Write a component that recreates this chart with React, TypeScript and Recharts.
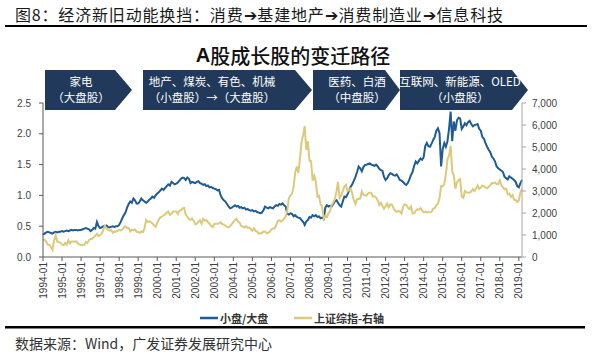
import { Line, LineChart, XAxis, YAxis } from "recharts";

const startYear = 1994;

// 小盘/大盘, monthly from 1994-01
const smallLargeRatio = [
  0.36, 0.38, 0.4, 0.41, 0.4, 0.39, 0.38, 0.4, 0.41, 0.4, 0.41, 0.41,
  0.42, 0.41, 0.42, 0.43, 0.42, 0.43, 0.44, 0.43, 0.44, 0.44, 0.43, 0.44,
  0.44, 0.45, 0.46, 0.47, 0.46, 0.45, 0.42, 0.44, 0.47, 0.46, 0.57, 0.5,
  0.47, 0.48, 0.5, 0.49, 0.51, 0.49, 0.48, 0.49, 0.5, 0.49, 0.5, 0.5,
  0.52, 0.57, 0.63, 0.68, 0.72, 0.8, 0.86, 0.9, 0.88, 0.95, 0.92, 0.87,
  0.87, 0.9, 0.95, 0.92, 0.9, 0.88, 0.9, 0.93, 0.95, 0.98, 0.96, 1.0,
  1.03, 1.05, 1.08, 1.11, 1.09, 1.12, 1.15, 1.18, 1.16, 1.22, 1.2, 1.18,
  1.19, 1.21, 1.24, 1.27, 1.29, 1.28, 1.25, 1.29, 1.27, 1.2, 1.22, 1.21,
  1.2, 1.22, 1.23, 1.2, 1.19, 1.17, 1.18, 1.15, 1.16, 1.13, 1.14, 1.12,
  1.11, 1.1, 1.08, 1.09, 1.0, 0.95, 0.92, 0.9, 0.86, 0.82, 0.79, 0.8,
  0.82, 0.84, 0.82, 0.83, 0.8, 0.81, 0.79, 0.8, 0.77, 0.78, 0.76, 0.75,
  0.76, 0.74, 0.75, 0.73, 0.72, 0.71, 0.72, 0.76, 0.82, 0.8, 0.79, 0.81,
  0.8, 0.79, 0.82, 0.84, 0.83, 0.86, 0.85, 0.87, 0.84, 0.82, 0.7, 0.69,
  0.71, 0.7, 0.66, 0.68, 0.65, 0.64, 0.63, 0.6, 0.57, 0.52, 0.58, 0.6,
  0.65, 0.64, 0.68, 0.66, 0.68, 0.65, 0.66, 0.63, 0.64, 0.62, 0.8, 0.84,
  0.82, 0.83, 0.82, 0.86, 0.9, 0.92, 0.88, 0.84, 0.82, 0.9, 0.98, 0.97,
  1.02, 1.08, 1.14, 1.18, 1.24, 1.3, 1.38, 1.47, 1.44, 1.39, 1.46, 1.49,
  1.5, 1.51, 1.52, 1.5, 1.49, 1.48, 1.5, 1.47, 1.43, 1.41, 1.4, 1.3,
  1.25, 1.28, 1.33, 1.36, 1.35, 1.33, 1.32, 1.34, 1.3, 1.25, 1.24, 1.22,
  1.19, 1.17, 1.2, 1.26, 1.33, 1.38, 1.48, 1.55, 1.52, 1.56, 1.6, 1.58,
  1.62, 1.8, 1.85, 1.8, 1.79, 1.84, 1.9, 1.95, 2.05, 2.09, 2.01, 1.47,
  1.75, 1.85, 1.79, 1.88, 2.08, 2.36, 1.88, 2.2, 2.05, 2.22, 2.26, 2.25,
  2.08, 2.12, 2.17, 2.14, 2.19, 2.21, 2.16, 2.12, 2.14, 2.15, 2.16, 2.08,
  2.05, 1.95, 1.92, 1.85, 1.79, 1.74, 1.7, 1.63, 1.6, 1.55, 1.47, 1.44,
  1.42, 1.4, 1.38, 1.3, 1.28, 1.26, 1.31, 1.29, 1.27, 1.25, 1.22, 1.15,
  1.13, 1.2, 1.25,
];

// 上证综指 (right axis), monthly from 1994-01
const shComposite = [
  800, 790, 700, 560, 560, 440, 330, 760, 980, 700, 680, 650,
  560, 540, 640, 560, 770, 620, 700, 700, 690, 710, 620, 560,
  540, 540, 550, 680, 640, 760, 820, 830, 900, 960, 1050, 950,
  1000, 1050, 1230, 1420, 1300, 1230, 1200, 1230, 1100, 1160, 1150, 1190,
  1230, 1210, 1250, 1350, 1400, 1330, 1310, 1160, 1240, 1220, 1250, 1150,
  1140, 1100, 1160, 1130, 1300, 1680, 1600, 1620, 1590, 1520, 1440, 1370,
  1540, 1710, 1800, 1840, 1890, 1930, 2020, 2070, 1910, 1960, 2070, 2070,
  2070, 1960, 2110, 2120, 2210, 2230, 1920, 1830, 1720, 1690, 1750, 1650,
  1490, 1520, 1600, 1670, 1520, 1730, 1650, 1670, 1580, 1510, 1420, 1360,
  1500, 1510, 1510, 1520, 1580, 1490, 1480, 1420, 1370, 1350, 1400, 1500,
  1590, 1680, 1740, 1600, 1560, 1400, 1390, 1340, 1400, 1320, 1340, 1270,
  1190, 1310, 1180, 1160, 1060, 1080, 1080, 1160, 1160, 1090, 1100, 1160,
  1260, 1300, 1300, 1440, 1640, 1670, 1610, 1660, 1750, 1840, 2100, 2680,
  2790, 2880, 3180, 3840, 4110, 3820, 4470, 5220, 5550, 5950, 4870, 5260,
  4380, 4350, 3470, 3690, 3430, 2740, 2780, 2400, 2290, 1730, 1870, 1820,
  1990, 2080, 2370, 2480, 2630, 2960, 3410, 2670, 2780, 3000, 3200, 3280,
  2990, 3050, 3110, 2870, 2590, 2400, 2640, 2640, 2660, 2980, 2820, 2810,
  2790, 2900, 2930, 2910, 2740, 2760, 2700, 2570, 2360, 2470, 2330, 2200,
  2290, 2430, 2260, 2400, 2370, 2230, 2100, 2050, 2090, 2070, 1980, 2270,
  2390, 2370, 2240, 2180, 2300, 1980, 1990, 2100, 2170, 2140, 2220, 2120,
  2030, 2060, 2030, 2030, 2040, 2050, 2200, 2220, 2360, 2420, 2680, 3230,
  3210, 3310, 3750, 4440, 4610, 5050, 3900, 3700, 3100, 3380, 3500, 3540,
  2740, 2690, 3000, 2940, 2920, 2930, 2980, 3090, 3000, 3100, 3250, 3100,
  3160, 3240, 3220, 3150, 3120, 3190, 3270, 3360, 3350, 3390, 3320, 3310,
  3480, 3260, 3170, 3080, 3100, 2850, 2880, 2730, 2820, 2600, 2590, 2490,
  2580, 2940, 3090,
];

const yearTicks = [
  1994, 1995, 1996, 1997, 1998, 1999, 2000, 2001, 2002, 2003, 2004, 2005, 2006,
  2007, 2008, 2009, 2010, 2011, 2012, 2013, 2014, 2015, 2016, 2017, 2018, 2019,
];
const leftTicks = [0, 0.5, 1.0, 1.5, 2.0, 2.5];
const rightTicks = [0, 1000, 2000, 3000, 4000, 5000, 6000, 7000];

const banners = [
  { l1: "家电", l2: "（大盘股）" },
  { l1: "地产、煤炭、有色、机械", l2: "（小盘股）→（大盘股）" },
  { l1: "医药、白酒", l2: "（中盘股）" },
  { l1: "互联网、新能源、OLED", l2: "（小盘股）" },
];

const rows = smallLargeRatio.map((r, i) => ({
  t: startYear + i / 12,
  ratio: r,
  sh: shComposite[i],
}));

const BLUE = "#1f5b94";
const GOLD = "#dcc97c";
const NAVY = "#213a5c";
const CJK = "'Noto Sans CJK SC', sans-serif";
const SANS = "'Liberation Sans', Arial, sans-serif";

function YearTick(props: any) {
  const { x, y, payload } = props;
  return (
    <text
      x={x}
      y={y}
      transform={`rotate(-90 ${x} ${y})`}
      textAnchor="end"
      dy="0.35em"
      fontSize={10}
      fontFamily={SANS}
      fill="#404040"
    >
      {`${payload.value}-01`}
    </text>
  );
}

// banner geometry: [left, rectRight, tip, textCenter]
const bannerBoxes = [
  [45, 115, 132, 81],
  [143, 295, 312, 212],
  [313, 385, 400, 357],
  [400, 512, 528, 460],
];

export default function App() {
  return (
    <div
      style={{
        position: "relative",
        width: 600,
        height: 353,
        background: "#fff",
        overflow: "hidden",
      }}
    >
      <style>{`body{margin:0}`}</style>
      <LineChart
        width={600}
        height={353}
        data={rows}
        margin={{ top: 103, right: 0, bottom: 46, left: 0 }}
        style={{ position: "absolute", left: 0, top: 0 }}
      >
        <XAxis
          dataKey="t"
          type="number"
          domain={[startYear, startYear + (rows.length - 1) / 12]}
          ticks={yearTicks}
          height={50}
          tickSize={4}
          tickMargin={1}
          stroke="#595959"
          tick={<YearTick />}
          interval={0}
        />
        <YAxis
          yAxisId="left"
          width={43}
          domain={[0, 2.5]}
          ticks={leftTicks}
          tickSize={4}
          tickMargin={8}
          stroke="#595959"
          tickFormatter={(v: number) => v.toFixed(1)}
          tick={{ fontSize: 10, fill: "#404040", fontFamily: SANS }}
        />
        <YAxis
          yAxisId="right"
          orientation="right"
          width={78}
          domain={[0, 7000]}
          ticks={rightTicks}
          tickSize={4}
          tickMargin={6}
          stroke="#a6a6a6"
          tickFormatter={(v: number) => v.toLocaleString("en-US")}
          tick={{ fontSize: 10, fill: "#404040", fontFamily: SANS, textAnchor: "start" }}
        />
        <Line
          yAxisId="left"
          dataKey="ratio"
          stroke={BLUE}
          strokeWidth={2}
          dot={false}
          isAnimationActive={false}
        />
        <Line
          yAxisId="right"
          dataKey="sh"
          stroke={GOLD}
          strokeWidth={2}
          dot={false}
          isAnimationActive={false}
        />
      </LineChart>

      <svg
        width={600}
        height={353}
        style={{ position: "absolute", left: 0, top: 0, pointerEvents: "none" }}
      >
        <text
          x={15}
          y={14}
          dominantBaseline="central"
          fontSize={16}
          fontFamily={CJK}
          fill="#1a1a1a"
          textLength={488}
          lengthAdjust="spacing"
        >
          图8：经济新旧动能换挡：消费➔基建地产➔消费制造业➔信息科技
        </text>
        <rect x={5} y={25} width={582} height={2} fill="#000" />

        <text
          x={293}
          y={55}
          dominantBaseline="central"
          textAnchor="middle"
          fontSize={20}
          fontFamily={CJK}
          fill="#111"
        >
          <tspan fontFamily={SANS} fontWeight="bold">A</tspan>
          <tspan fontWeight={500}>股成长股的变迁路径</tspan>
        </text>

        {bannerBoxes.map(([l, r, tip, cx], i) => (
          <g key={i}>
            <polygon
              points={`${l},70 ${r},70 ${tip},90 ${r},110 ${l},110`}
              fill={NAVY}
            />
            <text
              x={cx}
              y={81}
              dominantBaseline="central"
              textAnchor="middle"
              fontSize={11.5}
              fontFamily={CJK}
              fill="#fff"
            >
              {banners[i].l1}
            </text>
            <text
              x={cx}
              y={97}
              dominantBaseline="central"
              textAnchor="middle"
              fontSize={11.5}
              fontFamily={CJK}
              fill="#fff"
            >
              {banners[i].l2}
            </text>
          </g>
        ))}

        <line x1={200} y1={318} x2={218} y2={318} stroke={BLUE} strokeWidth={2.5} />
        <text
          x={220}
          y={318}
          dominantBaseline="central"
          fontSize={11}
          fontWeight={700}
          fontFamily={CJK}
          fill="#333"
        >
          小盘/大盘
        </text>
        <line x1={294} y1={318} x2={312} y2={318} stroke={GOLD} strokeWidth={2.5} />
        <text
          x={314}
          y={318}
          dominantBaseline="central"
          fontSize={11}
          fontWeight={700}
          fontFamily={CJK}
          fill="#333"
        >
          上证综指-右轴
        </text>

        <rect x={5} y={326} width={580} height={2.5} fill="#000" />
        <text
          x={15}
          y={343}
          dominantBaseline="central"
          fontSize={14}
          fontFamily={CJK}
          fill="#333"
          textLength={257}
          lengthAdjust="spacing"
        >
          数据来源：Wind，广发证券发展研究中心
        </text>
      </svg>
    </div>
  );
}
